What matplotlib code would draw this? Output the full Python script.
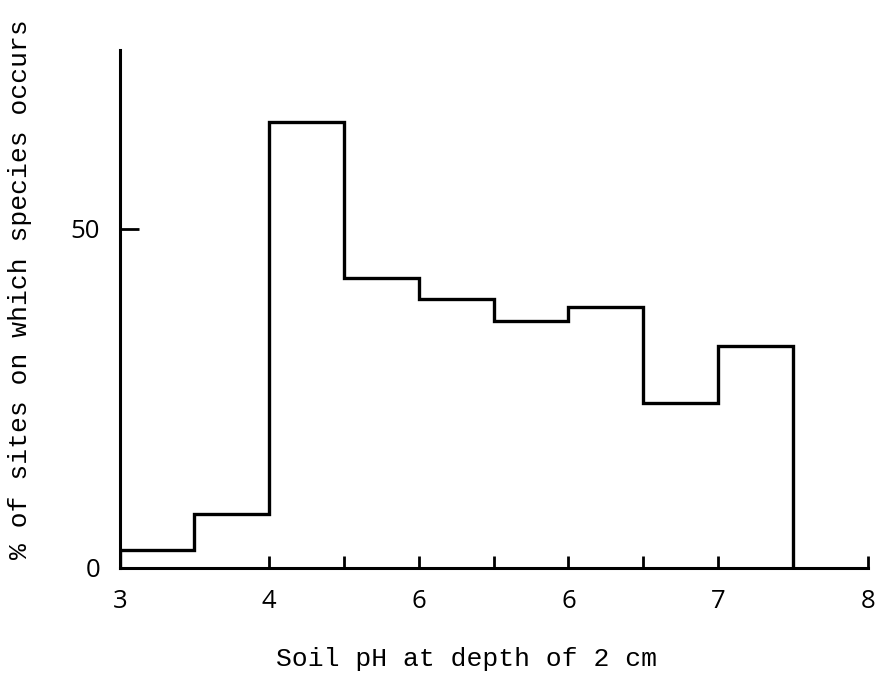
import matplotlib
matplotlib.use("Agg")
import matplotlib.pyplot as plt

# pH bin edges and % of sites in each bin
bin_edges = [3.0, 3.5, 4.0, 4.5, 5.0, 5.5, 6.0, 6.5, 7.0, 7.5]
percent_sites = [2.6, 8.0, 65.8, 42.8, 39.7, 36.4, 38.5, 24.3, 32.7]

xtick_pos = [3, 4, 4.5, 5, 5.5, 6, 6.5, 7, 7.5, 8]
xtick_labels = ["3", "4", "", "6", "", "6", "", "7", "", "8"]
ytick_pos = [0, 50]
ytick_labels = ["0", "50"]

fig = plt.figure(figsize=(8.8, 6.9), dpi=100)
ax = fig.add_axes([0.136, 0.177, 0.850, 0.7505])

ax.stairs(percent_sites, bin_edges, baseline=0, color="black", linewidth=2.4)

ax.set_xlim(3, 8)
ax.set_ylim(0, 76.4)

for side in ["top", "right"]:
    ax.spines[side].set_visible(False)
for side in ["left", "bottom"]:
    ax.spines[side].set_linewidth(2.2)

ax.set_xticks(xtick_pos)
ax.set_xticklabels(xtick_labels, family="Open Sans", fontsize=18.5)
ax.set_yticks(ytick_pos)
ax.set_yticklabels(ytick_labels, family="Open Sans", fontsize=18.5)
ax.tick_params(axis="x", direction="in", length=9, width=2.0, pad=15)
ax.tick_params(axis="y", direction="in", length=14, width=2.0, pad=14)

ax.set_xlabel("Soil pH at depth of 2 cm", family="Liberation Mono", fontsize=19)
ax.set_ylabel("% of sites on which species occurs", family="Liberation Mono", fontsize=19)
ax.xaxis.set_label_coords(0.464, -0.152)
ax.yaxis.set_label_coords(-0.117, 0.539)

fig.savefig("out.png", dpi=100)
